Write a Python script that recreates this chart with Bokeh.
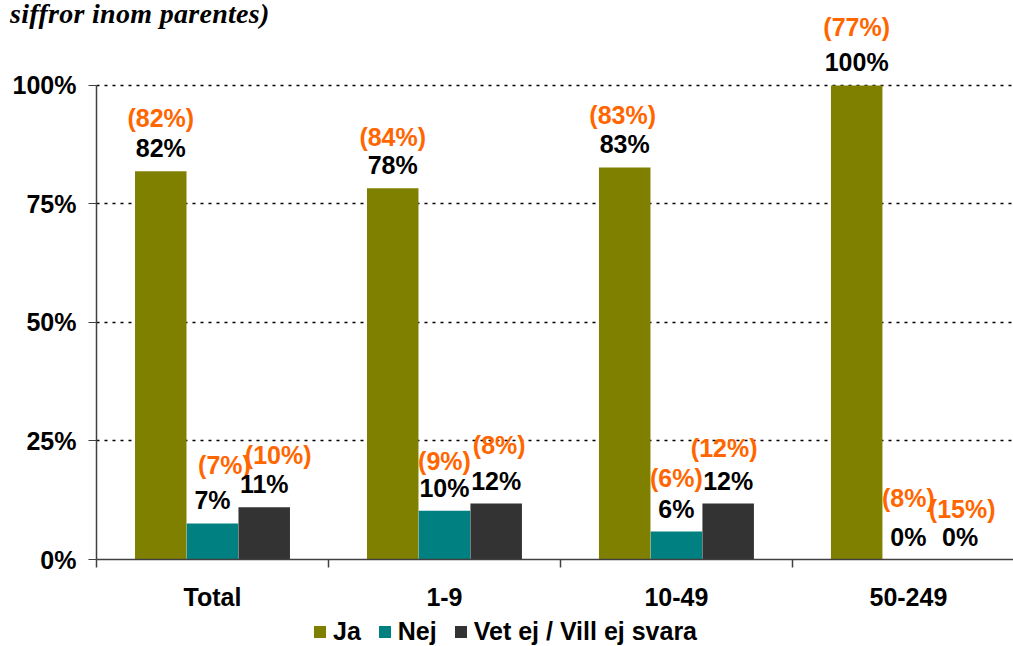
from bokeh.plotting import figure
from bokeh.models import (ColumnDataSource, Range1d, FixedTicker, Legend, LegendItem,
                          Div, GridBox)
from bokeh.transform import dodge
from bokeh.core.properties import value
from bokeh.embed import file_html
from bokeh.resources import INLINE

# ---------------- data ----------------
categories = ["Total", "1-9", "10-49", "50-249"]
series = ["Ja", "Nej", "Vet ej / Vill ej svara"]
ja = [81.9, 78.3, 82.7, 100.0]
nej = [7.6, 10.3, 5.9, 0.0]
vet = [11.0, 11.8, 11.8, 0.0]
ja_labels = ["82%", "78%", "83%", "100%"]
nej_labels = ["7%", "10%", "6%", "0%"]
vet_labels = ["11%", "12%", "12%", "0%"]
ja_prev = ["(82%)", "(84%)", "(83%)", "(77%)"]
nej_prev = ["(7%)", "(9%)", "(6%)", "(8%)"]
vet_prev = ["(10%)", "(8%)", "(12%)", "(15%)"]
y_ticks = [0, 25, 50, 75, 100]
title_text = "siffror inom parentes)"

# ---------------- styles ----------------
colors = ["#808000", "#008080", "#333333"]
offsets = [-0.223, 0.0, 0.223]
bar_w = 0.222
orange = "#FF6600"
axis_col = "#404040"
# pixel nudges for the bracketed labels (dx right, dy above bar top)
prev_dx = [[0, 0, -2, 0], [12, 0, 0, 0], [14, 3, -4, 2]]
prev_dy = [[53, 51, 52, 58], [58, 50, 54, 62], [52, 59, 56, 51]]

FONT = "Liberation Sans"
FS = "25px"
W = 1013
H_MAIN = 617
H_LEG = 29

xs = [i + 0.5 for i in range(len(categories))]

p = figure(width=W, height=H_MAIN, output_backend="svg", toolbar_location=None,
           x_range=Range1d(0, 3.953), y_range=Range1d(0, 117.93),
           min_border_left=96, min_border_right=0, min_border_top=0,
           min_border_bottom=H_MAIN - 559)
p.outline_line_color = None
p.background_fill_color = "white"
p.border_fill_color = "white"

vals = [ja, nej, vet]
labs = [ja_labels, nej_labels, vet_labels]
prevs = [ja_prev, nej_prev, vet_prev]
for k in range(3):
    src = ColumnDataSource(dict(
        x=xs, v=vals[k], lab=labs[k], prev=prevs[k],
        dx=prev_dx[k], dy=[-d for d in prev_dy[k]]))
    p.vbar(x=dodge("x", offsets[k], range=p.x_range), top="v", width=bar_w,
           bottom=0, source=src, fill_color=colors[k], line_color=None)
    p.text(x=dodge("x", offsets[k], range=p.x_range), y="v", text="lab", source=src,
           text_align="center", text_baseline="middle", y_offset=-23,
           text_font=value(FONT), text_font_style="bold", text_font_size=FS,
           text_color="black")
    p.text(x=dodge("x", offsets[k], range=p.x_range), y="v", text="prev", source=src,
           text_align="center", text_baseline="middle", x_offset="dx", y_offset="dy",
           text_font=value(FONT), text_font_style="bold", text_font_size=FS,
           text_color=orange)

# y axis
ya = p.yaxis[0]
ya.ticker = FixedTicker(ticks=y_ticks, minor_ticks=[])
ya.major_label_overrides = {t: f"{t}%" for t in y_ticks}
ya.bounds = (0, 100)
ya.axis_line_color = axis_col
ya.axis_line_width = 1.5
ya.major_tick_line_color = axis_col
ya.major_tick_out = 8
ya.major_tick_in = 0
ya.major_label_standoff = 12
ya.major_label_text_font = FONT
ya.major_label_text_font_style = "bold"
ya.major_label_text_font_size = FS
ya.major_label_text_color = "black"

# x axis
xa = p.xaxis[0]
xa.ticker = FixedTicker(ticks=xs, minor_ticks=list(range(len(categories) + 1)))
xa.major_label_overrides = {x: c for x, c in zip(xs, categories)}
xa.axis_line_color = axis_col
xa.axis_line_width = 1.5
xa.major_tick_out = 0
xa.major_tick_in = 0
xa.minor_tick_out = 8
xa.minor_tick_in = 0
xa.minor_tick_line_color = axis_col
xa.minor_tick_line_width = 1.5
xa.major_label_standoff = 15
xa.major_label_text_font = FONT
xa.major_label_text_font_style = "bold"
xa.major_label_text_font_size = FS
xa.major_label_text_color = "black"

p.xgrid.visible = False
p.ygrid.grid_line_color = "black"
p.ygrid.grid_line_dash = "3 5"
p.ygrid.grid_line_width = 1.5

# ---------- legend strip below ----------
lf = figure(width=W, height=H_LEG, output_backend="svg", toolbar_location=None,
            x_range=Range1d(0, 1), y_range=Range1d(0, 1),
            min_border_left=96, min_border_right=0, min_border_top=0,
            min_border_bottom=0)
lf.axis.visible = False
lf.grid.visible = False
lf.outline_line_color = None
lf.background_fill_color = "white"
lf.border_fill_color = "white"
items = []
for k in range(3):
    r = lf.vbar(x=[-5], top=[-5], bottom=[-6], width=0.1, fill_color=colors[k],
                line_color=None)
    items.append(LegendItem(label=series[k], renderers=[r]))
legend = Legend(items=items, orientation="horizontal", location=(216, 0),
                label_text_font=FONT, label_text_font_style="bold",
                label_text_font_size=FS, label_text_color="black",
                glyph_width=15, glyph_height=15,
                label_standoff=6, spacing=16, border_line_color=None,
                background_fill_alpha=0, padding=0, margin=0, label_height=20)
lf.add_layout(legend)

# ---------- title (overlaid at top-left) ----------
title = Div(text=title_text, width=400, height=30, margin=(0, 0, 0, 10),
            styles={"font-family": "Liberation Serif", "font-weight": "bold",
                    "font-style": "italic", "font-size": "28px",
                    "letter-spacing": "0.3px",
                    "line-height": "27px", "color": "black",
                    "white-space": "nowrap"})

grid = GridBox(children=[(p, 0, 0), (title, 0, 0), (lf, 1, 0)])
open("out.html", "w").write(file_html(grid, INLINE))
